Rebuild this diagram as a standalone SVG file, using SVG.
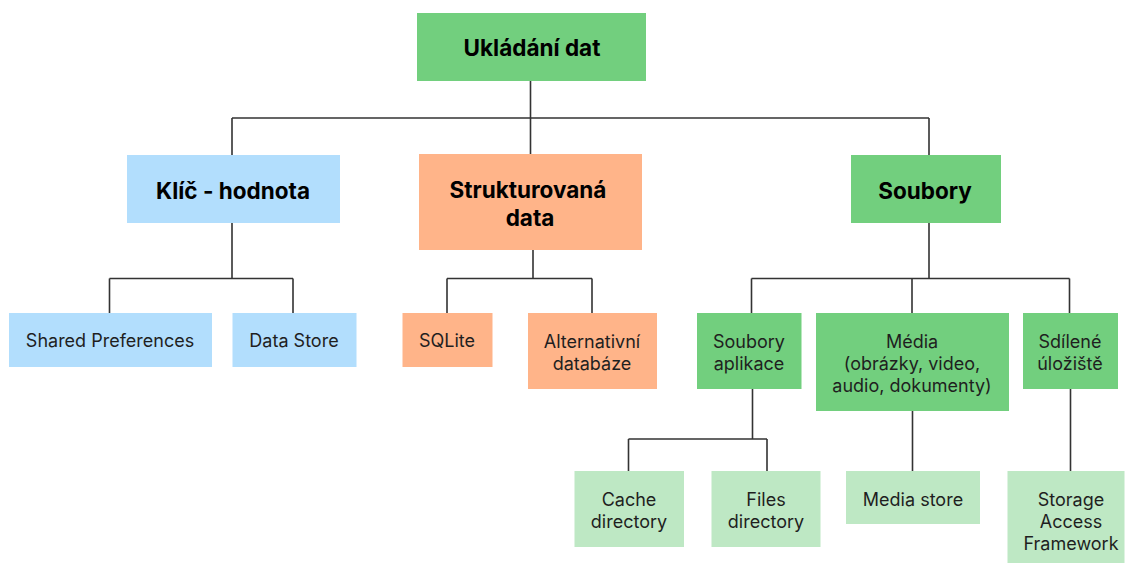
<svg xmlns="http://www.w3.org/2000/svg" width="1125" height="563" viewBox="0 0 1125 563">
<style>
.g{fill:#72cf7e}.b{fill:#b2defd}.o{fill:#ffb489}.l{fill:#bee8c4}
text{font-family:Inter,"Liberation Sans",sans-serif;fill:#1f1f1f;text-anchor:middle;dominant-baseline:central}
.h{font-size:22.5px;font-weight:700;fill:#000}
.n{font-size:18px}
.c{fill:none;stroke:#333;stroke-width:1.6}
</style>
<rect width="1125" height="563" fill="#fff"/>
<g id="connectors" class="c">
<path d="M530.5 81V118M232 118H929M232 118V155M530.5 118V154M929 118V155"/>
<path d="M232 223V278.5M109.5 278.5H293M109.5 278.5V313M293 278.5V313"/>
<path d="M533 250V278.5M447 278.5H592M447 278.5V313M592 278.5V313"/>
<path d="M929 223V278.5M751.5 278.5H1069.5M751.5 278.5V313M912 278.5V313M1069.5 278.5V313"/>
<path d="M752.5 389V439M628.5 439H767M628.5 439V471M767 439V471"/>
<path d="M912.5 411V471M1070.5 389V471"/>
</g>
<g id="root"><rect class="g" x="417" y="13" width="229" height="68"/><text class="h" x="532" y="47">Ukládání dat</text></g>
<g id="klic"><rect class="b" x="127" y="155" width="213" height="68"/><text class="h" x="233" y="190">Klíč - hodnota</text></g>
<g id="strukturovana"><rect class="o" x="419" y="154" width="223" height="96"/><text class="h" x="528" y="189">Strukturovaná</text><text class="h" x="530" y="217">data</text></g>
<g id="soubory"><rect class="g" x="851" y="155" width="150" height="68"/><text class="h" x="925" y="190">Soubory</text></g>
<g id="shared"><rect class="b" x="9" y="313" width="203" height="54"/><text class="n" x="110" y="340">Shared Preferences</text></g>
<g id="datastore"><rect class="b" x="232.5" y="313" width="124" height="54"/><text class="n" x="294" y="340">Data Store</text></g>
<g id="sqlite"><rect class="o" x="402.5" y="313" width="90" height="54"/><text class="n" x="447" y="340">SQLite</text></g>
<g id="alternativni"><rect class="o" x="528" y="313" width="129" height="76"/><text class="n" x="592" y="341">Alternativní</text><text class="n" x="592" y="363">databáze</text></g>
<g id="souboryaplikace"><rect class="g" x="697" y="313" width="104.5" height="76"/><text class="n" x="749" y="341">Soubory</text><text class="n" x="749" y="363">aplikace</text></g>
<g id="media"><rect class="g" x="816" y="313" width="193" height="98"/><text class="n" x="912" y="341">Média</text><text class="n" x="912" y="363">(obrázky, video,</text><text class="n" x="912" y="385">audio, dokumenty)</text></g>
<g id="sdilene"><rect class="g" x="1023" y="313" width="95" height="76"/><text class="n" x="1070" y="341">Sdílené</text><text class="n" x="1070" y="363">úložiště</text></g>
<g id="cache"><rect class="l" x="574.5" y="471" width="109.5" height="76"/><text class="n" x="629" y="499">Cache</text><text class="n" x="629" y="521">directory</text></g>
<g id="files"><rect class="l" x="711.5" y="471" width="109" height="76"/><text class="n" x="766" y="499">Files</text><text class="n" x="766" y="521">directory</text></g>
<g id="mediastore"><rect class="l" x="846" y="471" width="134" height="53"/><text class="n" x="913" y="499">Media store</text></g>
<g id="saf"><rect class="l" x="1007.5" y="471" width="117" height="92"/><text class="n" x="1071" y="499">Storage</text><text class="n" x="1071" y="521">Access</text><text class="n" x="1071" y="543">Framework</text></g>
</svg>
